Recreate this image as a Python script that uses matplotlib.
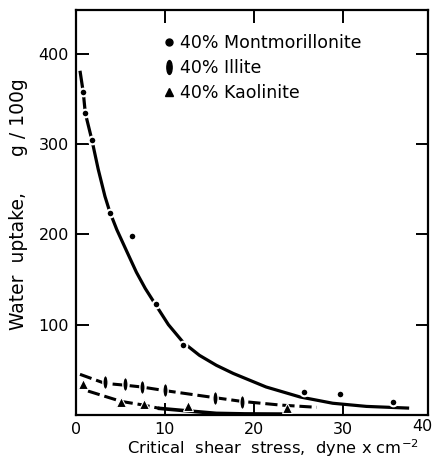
import matplotlib
matplotlib.use("Agg")
import matplotlib.pyplot as plt
from matplotlib.path import Path
from matplotlib.transforms import Affine2D
from matplotlib.lines import Line2D

# measured points
mont_x = [0.75, 1.0, 1.76, 3.8, 6.3, 8.95, 12.0, 25.7, 29.7, 35.7]
mont_y = [357, 334, 304, 224, 198, 123, 77, 26, 23, 14]
illite_x = [3.3, 5.5, 7.4, 10.0, 15.6, 18.7]
illite_y = [36, 34, 31, 28, 18.5, 14]
kaol_x = [0.75, 5.1, 7.6, 12.6, 23.8]
kaol_y = [34, 14, 11.7, 10, 8]

# hand-drawn curves
mont_curve_x = [0.45, 0.82, 1.05, 1.8, 2.5, 3.26, 3.8, 4.6, 5.3, 6.0, 6.8, 7.8,
                8.9, 10.4, 12.1, 13.9, 15.8, 17.7, 21.4, 25.2, 28.9, 32.7, 37.5]
mont_curve_y = [381, 357, 334, 304, 272, 242, 225, 205, 190, 175, 158, 140,
                123, 100, 80, 66, 55, 46, 31, 20, 13, 9.5, 7.6]
illite_curve_x = [0.45, 3.26, 5.5, 7.4, 10.0, 14.3, 18.7, 23.0, 27.1]
illite_curve_y = [45, 35, 33, 31, 27, 21, 15, 11, 8.5]
kaol_dash_x = [1.35, 5.1, 7.6, 9.4]
kaol_dash_y = [26.5, 15, 11, 7.3]
kaol_solid_x = [9.4, 12.6, 15.8, 19.0, 23.3]
kaol_solid_y = [7.3, 4.5, 1.8, 1.2, 1.0]

fig = plt.figure(figsize=(4.33, 4.61), dpi=100)
ax = fig.add_axes([0.1755, 0.0998, 0.8125, 0.878])

ink = "black"
ax.plot(mont_curve_x, mont_curve_y, color=ink, lw=2.3, solid_capstyle="butt",
        solid_joinstyle="round")
ax.plot(mont_x, mont_y, "o", color=ink, ms=5.5, mec="white", mew=1.5, zorder=3)

ax.plot(illite_curve_x, illite_curve_y, color=ink, lw=2.2, dashes=(4, 1.6))
lens = Path.unit_circle().transformed(Affine2D().scale(0.38, 1.0))
ax.plot(illite_x, illite_y, ls="none", marker=lens, color=ink, ms=10,
        mec="white", mew=1.0, zorder=3)

ax.plot(kaol_dash_x, kaol_dash_y, color=ink, lw=2.2, dashes=(4, 1.6))
ax.plot(kaol_solid_x, kaol_solid_y, color=ink, lw=2.6)
ax.plot(kaol_x, kaol_y, "^", color=ink, ms=6.5, mec="white", mew=0.8, zorder=3)

ax.set_xlim(0, 39.6)
ax.set_ylim(0, 448)
ax.set_xticks([0, 10, 20, 30])
ax.set_xticklabels(["0", "10", "20", "30"])
ax.set_yticks([100, 200, 300, 400])
ax.tick_params(direction="in", length=9, width=1.4, top=True, right=True,
               labelsize=11.5)
ax.tick_params(axis="x", pad=5)
ax.tick_params(axis="y", pad=5)
for s in ax.spines.values():
    s.set_linewidth(1.6)
fig.text(0.999, 0.092, "40", ha="right", va="top", fontsize=11.5)

ax.set_xlabel("Critical  shear  stress,  dyne x cm$^{-2}$", fontsize=11.8)
ax.xaxis.set_label_coords(0.559, -0.055)
ax.set_ylabel("Water  uptake,      g / 100g", fontsize=13.5)
ax.yaxis.set_label_coords(-0.136, 0.521)

handles = [
    Line2D([], [], ls="none", marker="o", color=ink, ms=5),
    Line2D([], [], ls="none", marker=lens, color=ink, ms=10),
    Line2D([], [], ls="none", marker="^", color=ink, ms=6),
]
ax.legend(handles, ["40% Montmorillonite", "40% Illite", "40% Kaolinite"],
          loc="upper left", bbox_to_anchor=(0.229, 0.958), frameon=False,
          fontsize=12.5, handlelength=0.6, handletextpad=0.35, labelspacing=0.4,
          borderaxespad=0)

fig.savefig("out.png", dpi=100)
